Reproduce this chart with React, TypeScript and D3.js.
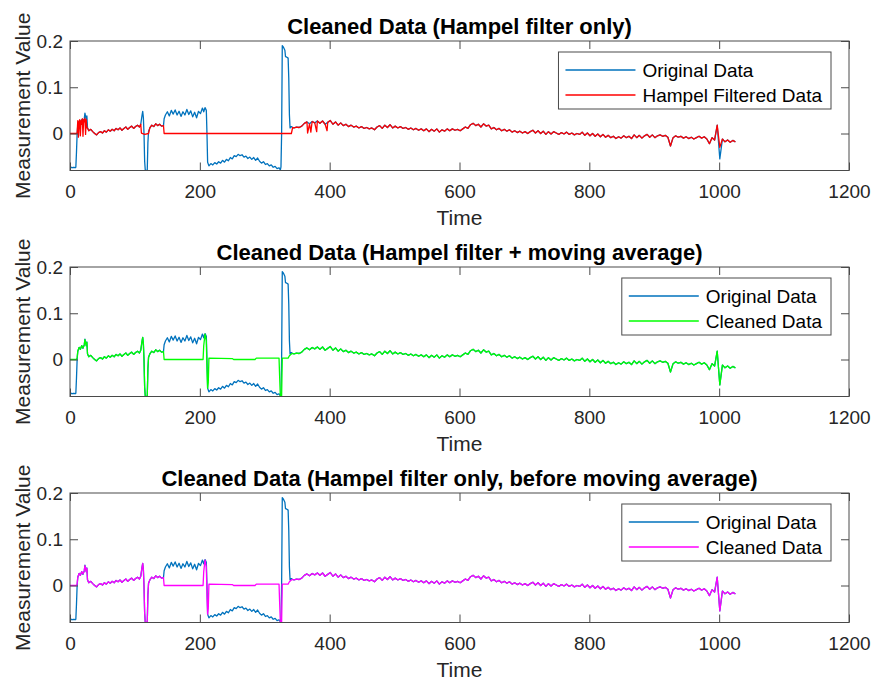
import React, { useEffect, useRef } from "react";
import * as d3 from "d3";

type Pt = [number, number];

const xTicks = [0, 200, 400, 600, 800, 1000, 1200];
const yTicks = [0, 0.1, 0.2];

// shared noisy tail, one sample every 4 time steps from t = 345
const tailStart = 345;
const tailStep = 4;
const tailValues = [
  0.012, 0.014, 0.013, 0.016, 0.022, 0.025, 0.021, 0.026, 0.023, 0.027,
  0.022, 0.027, 0.02, 0.024, 0.028, 0.02, 0.025, 0.018, 0.023, 0.017,
  0.02, 0.015, 0.018, 0.014, 0.016, 0.012, 0.015, 0.011, 0.013, 0.01,
  0.012, 0.008, 0.014, 0.017, 0.011, 0.018, 0.013, 0.019, 0.012, 0.016,
  0.012, 0.015, 0.011, 0.013, 0.009, 0.012, 0.008, 0.011, 0.007, 0.01,
  0.006, 0.01, 0.004, 0.009, 0.005, 0.01, 0.003, 0.008, 0.005, 0.01,
  0.006, 0.01, 0.007, 0.009, 0.006, 0.01, 0.014, 0.011, 0.019, 0.022,
  0.017, 0.02, 0.014, 0.021, 0.016, 0.018, 0.01, 0.013, 0.008, 0.011,
  0.006, 0.009, 0.005, 0.008, 0.003, 0.006, 0.002, 0.005, 0.001, 0.004,
  0.0, 0.004, 0.007, 0.001, 0.006, 0.0, 0.005, -0.002, 0.004, -0.001,
  0.004, 0.001, -0.002, 0.002, -0.001, 0.003, -0.002, 0.001, -0.003, 0.0,
  -0.002, 0.003, -0.004, 0.001, -0.005, 0.0, -0.006, -0.001, -0.007, -0.002,
  -0.008, -0.004, -0.009, -0.006, -0.011, -0.007, -0.01, -0.005, -0.009, -0.006,
  -0.011, -0.003, -0.009, -0.004, -0.01, -0.005, -0.002, -0.008, -0.003, -0.009,
  -0.005, -0.003, -0.006, -0.004, -0.008, -0.027, -0.009, -0.005, -0.008, -0.006,
  -0.01, -0.007, -0.011, -0.008, -0.012, -0.009, -0.006, -0.01, -0.007, -0.012,
  -0.022, -0.009, -0.014, 0.018, -0.055, -0.012, -0.018, -0.014, -0.019, -0.015,
  -0.018,
];

// hampel-only spikes and replacements in the tail
const hampelTailSpikes: Pt[] = [[366, 0.001], [371, 0.003], [380, 0.004], [396, 0.006]];
const hampelTailReplace: Pt[] = [[1001, -0.03]];

const origA: Pt[] = [
  [0, -0.074], [2, -0.073], [4, -0.074], [6, -0.073], [8, -0.074], [9, -0.073], [10, -0.04],
  [11, 0.0], [12, 0.018], [14, 0.026], [16, 0.022], [18, 0.03], [20, 0.024], [22, 0.032],
  [23, 0.044], [25, 0.03], [26, 0.038], [27, 0.012],
];
const hampA: Pt[] = [
  [0, 0], [10, 0], [11, 0.001], [12, 0.028], [13, -0.008], [14, 0.025], [15, 0.03], [16, -0.005],
  [17, 0.028], [18, 0.02], [19, 0.032], [20, -0.006], [21, 0.03], [22, 0.025], [23, 0.033],
  [24, -0.002], [25, 0.03], [26, 0.012], [27, 0.012],
];
const cleanA: Pt[] = [
  [0, 0], [10, 0], [11, 0.004], [12, 0.018], [14, 0.026], [16, 0.022], [18, 0.03], [20, 0.025],
  [22, 0.032], [23, 0.043], [25, 0.03], [26, 0.037], [27, 0.012],
];
const shared1: Pt[] = [
  [29, 0.006], [32, 0.009], [35, 0.004], [38, 0.0], [41, -0.003], [44, 0.002], [47, 0.004],
  [50, 0.001], [53, 0.006], [56, 0.003], [59, 0.008], [62, 0.005], [65, 0.009], [68, 0.006],
  [71, 0.011], [74, 0.008], [77, 0.012], [80, 0.007], [83, 0.011], [86, 0.014], [89, 0.009],
  [92, 0.013], [95, 0.016], [98, 0.011], [101, 0.015], [104, 0.018], [107, 0.014],
];
const origB: Pt[] = [
  [109, 0.02], [111, 0.04], [112, 0.048], [113, 0.035], [114, 0.0], [115, -0.06], [116, -0.08],
  [119, -0.08], [120, -0.02], [121, 0.005],
];
const hampB: Pt[] = [[109, 0.02], [110, 0.001], [115, -0.002], [121, 0.0]];
const shared2: Pt[] = [
  [123, 0.012], [126, 0.018], [129, 0.015], [132, 0.021], [135, 0.017], [138, 0.02],
  [141, 0.016], [144, 0.017],
];
const origC: Pt[] = [
  [145, 0.032], [147, 0.04], [150, 0.047], [153, 0.038], [156, 0.05], [159, 0.042], [162, 0.051],
  [165, 0.04], [168, 0.048], [171, 0.037], [174, 0.047], [177, 0.04], [180, 0.052], [183, 0.041],
  [186, 0.049], [189, 0.036], [192, 0.046], [195, 0.034], [198, 0.048], [201, 0.043], [204, 0.055],
  [206, 0.047], [208, 0.056], [210, 0.05], [211, 0.0], [212, -0.062], [214, -0.07], [217, -0.065],
  [220, -0.068], [223, -0.063], [226, -0.066], [229, -0.061], [232, -0.064], [235, -0.058],
  [238, -0.062], [241, -0.056], [244, -0.059], [247, -0.052], [250, -0.055], [253, -0.048],
  [256, -0.05], [259, -0.045], [262, -0.048], [265, -0.046], [268, -0.051], [271, -0.049],
  [274, -0.054], [277, -0.051], [280, -0.056], [283, -0.052], [286, -0.058], [289, -0.053],
  [292, -0.06], [295, -0.064], [298, -0.061], [301, -0.067], [304, -0.065], [307, -0.07],
  [310, -0.068], [313, -0.073], [316, -0.071], [319, -0.076], [322, -0.074], [324, -0.079],
  [325, -0.072], [326, 0.0], [327, 0.19], [329, 0.186], [331, 0.18], [332, 0.166], [334, 0.165],
  [336, 0.163], [337, 0.12], [338, 0.04], [339, 0.012], [341, 0.015], [343, 0.013],
];
const hampC: Pt[] = [[145, 0.0], [341, 0.0], [343, 0.013]];
const cleanC: Pt[] = [
  [145, 0.0], [205, 0.0], [206, 0.03], [208, 0.055], [210, 0.04], [211, -0.02], [212, -0.062],
  [213, -0.05], [214, 0.003], [250, 0.002], [252, 0.0], [285, 0.0], [287, 0.003], [322, 0.003],
  [323, -0.04], [324, -0.079], [326, -0.079], [327, 0.003], [336, 0.003], [338, 0.008],
  [341, 0.012], [343, 0.013],
];

const titles = [
  "Cleaned Data (Hampel filter only)",
  "Cleaned Data (Hampel filter + moving average)",
  "Cleaned Data (Hampel filter only, before moving average)",
];
const legendLabels = [
  ["Original Data", "Hampel Filtered Data"],
  ["Original Data", "Cleaned Data"],
  ["Original Data", "Cleaned Data"],
];
const lineColors = ["#FF0000", "#00FF00", "#FF00FF"];
const originalColor = "#0072BD";

const tail: Pt[] = tailValues.map((v, i) => [tailStart + i * tailStep, v]);
const hampelTail: Pt[] = tail
  .map((d) => {
    const r = hampelTailReplace.find((p) => p[0] === d[0]);
    return (r ? [d[0], r[1]] : d) as Pt;
  })
  .concat(hampelTailSpikes)
  .sort((a, b) => a[0] - b[0]);

const original: Pt[] = [...origA, ...shared1, ...origB, ...shared2, ...origC, ...tail];
const hampel: Pt[] = [...hampA, ...shared1, ...hampB, ...shared2, ...hampC, ...hampelTail];
const cleaned: Pt[] = [...cleanA, ...shared1, ...origB, ...shared2, ...cleanC, ...tail];
const filteredSeries = [hampel, cleaned, cleaned];

const FONT = "Arial, 'Liberation Sans', Helvetica, sans-serif";

const App = () => {
  const ref = useRef<SVGSVGElement>(null);

  useEffect(() => {
    const svg = d3.select(ref.current);
    svg.selectAll("*").remove();

    const left = 70;
    const right = 849;
    const panelTops = [41, 267, 493];
    const panelH = 129.5;
    const axisColor = "#4a4a4a";

    const x = d3.scaleLinear().domain([0, 1200]).range([left, right]);

    panelTops.forEach((top, i) => {
      const bottom = top + panelH;
      const y = d3.scaleLinear().domain([-0.08, 0.2]).range([bottom, top]);
      const g = svg.append("g");

      const clipId = `clip-${i}`;
      g.append("clipPath")
        .attr("id", clipId)
        .append("rect")
        .attr("x", left)
        .attr("y", top)
        .attr("width", right - left)
        .attr("height", panelH);

      const line = d3
        .line<Pt>()
        .x((d) => x(d[0]))
        .y((d) => y(d[1]));

      const lines = g.append("g").attr("clip-path", `url(#${clipId})`);
      lines
        .append("path")
        .datum(original)
        .attr("d", line)
        .attr("fill", "none")
        .attr("stroke", originalColor)
        .attr("stroke-width", 1.3)
        .attr("stroke-linejoin", "round");
      lines
        .append("path")
        .datum(filteredSeries[i])
        .attr("d", line)
        .attr("fill", "none")
        .attr("stroke", lineColors[i])
        .attr("stroke-width", 1.3)
        .attr("stroke-linejoin", "round");

      // axes, ticks pointing inward like MATLAB
      const fmt = (d: d3.NumberValue) => (+d === 0 ? "0" : String(+d));
      const styleAxis = (sel: d3.Selection<SVGGElement, unknown, null, undefined>) => {
        sel.select(".domain").remove();
        sel.selectAll(".tick line").attr("stroke", axisColor);
        sel.selectAll("text").attr("fill", "#262626");
        sel.attr("font-family", FONT).attr("font-size", 19);
      };
      g.append("g")
        .attr("transform", `translate(0,${bottom})`)
        .call(d3.axisBottom(x).tickValues(xTicks).tickSize(-8).tickPadding(14).tickFormat(fmt))
        .call(styleAxis);
      g.append("g")
        .attr("transform", `translate(0,${top})`)
        .call(d3.axisTop(x).tickValues(xTicks).tickSize(-8).tickFormat(() => ""))
        .call(styleAxis);
      g.append("g")
        .attr("transform", `translate(${left},0)`)
        .call(d3.axisLeft(y).tickValues(yTicks).tickSize(-8).tickPadding(7).tickFormat(fmt))
        .call(styleAxis);
      g.append("g")
        .attr("transform", `translate(${right},0)`)
        .call(d3.axisRight(y).tickValues(yTicks).tickSize(-8).tickFormat(() => ""))
        .call(styleAxis);

      g.append("rect")
        .attr("x", left)
        .attr("y", top)
        .attr("width", right - left)
        .attr("height", panelH)
        .attr("fill", "none")
        .attr("stroke", axisColor)
        .attr("stroke-width", 1);

      // title
      g.append("text")
        .attr("x", (left + right) / 2)
        .attr("y", top - 7)
        .attr("text-anchor", "middle")
        .attr("font-family", FONT)
        .attr("font-weight", "bold")
        .attr("font-size", 22)
        .attr("fill", "#000")
        .text(titles[i]);

      // axis labels
      g.append("text")
        .attr("x", (left + right) / 2)
        .attr("y", bottom + 54)
        .attr("text-anchor", "middle")
        .attr("font-family", FONT)
        .attr("font-size", 21)
        .attr("fill", "#262626")
        .text("Time");
      g.append("text")
        .attr("transform", `translate(30,${(top + bottom) / 2}) rotate(-90)`)
        .attr("text-anchor", "middle")
        .attr("font-family", FONT)
        .attr("font-size", 21)
        .attr("fill", "#262626")
        .text("Measurement Value");

      // legend
      const legend = g.append("g");
      const box = legend.append("rect");
      const labels = legendLabels[i];
      const colors = [originalColor, lineColors[i]];
      const rowY = [top + 29, top + 54];
      const texts = labels.map((lab, k) =>
        legend
          .append("text")
          .attr("y", rowY[k])
          .attr("dy", "0.35em")
          .attr("font-family", FONT)
          .attr("font-size", 19)
          .attr("fill", "#000")
          .text(lab)
      );
      const maxW = d3.max(texts, (t) => (t.node() as SVGTextElement).getComputedTextLength()) || 0;
      const boxW = 7 + 70 + 7 + maxW + 9;
      const boxRight = right - 18;
      const boxLeft = boxRight - boxW;
      box
        .attr("x", boxLeft)
        .attr("y", top + 11)
        .attr("width", boxW)
        .attr("height", 57)
        .attr("fill", "#fff")
        .attr("stroke", axisColor)
        .attr("stroke-width", 1);
      texts.forEach((t, k) => {
        t.attr("x", boxLeft + 84);
        legend
          .append("line")
          .attr("x1", boxLeft + 7)
          .attr("x2", boxLeft + 77)
          .attr("y1", rowY[k])
          .attr("y2", rowY[k])
          .attr("stroke", colors[k])
          .attr("stroke-width", 1.3);
      });
    });
  }, []);

  return (
    <svg
      ref={ref}
      width={875}
      height={684}
      style={{ position: "absolute", left: 0, top: 0, background: "#fff" }}
    />
  );
};

export default App;
